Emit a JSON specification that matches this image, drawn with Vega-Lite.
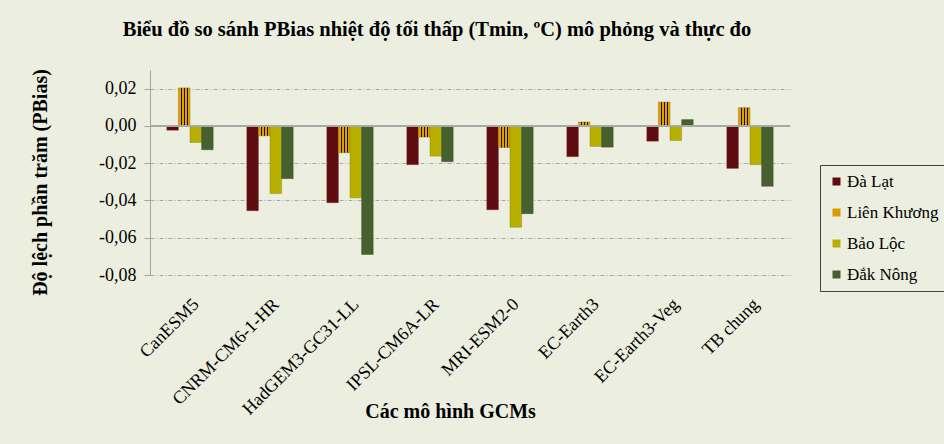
{
  "$schema": "https://vega.github.io/schema/vega-lite/v6.json",
  "width": 640,
  "height": 205,
  "autosize": "none",
  "padding": {"left": 150, "top": 70, "right": 154, "bottom": 169},
  "background": "#ECEFDF",
  "config": {
    "view": {"stroke": null},
    "font": "Liberation Serif",
    "legend": {"labelFont": "Liberation Serif", "titleFont": "Liberation Serif"},
    "axis": {"labelFont": "Liberation Serif", "titleFont": "Liberation Serif"}
  },
  "title": {
    "text": "Biểu đồ so sánh PBias nhiệt độ tối thấp (Tmin, ºC) mô phỏng và thực đo",
    "font": "Liberation Serif",
    "fontSize": 20.5,
    "fontWeight": "bold",
    "color": "#000000",
    "anchor": "middle",
    "dx": -33,
    "offset": 28
  },
  "data": {
    "values": [
      {"model": "CanESM5", "station": "Đà Lạt", "pbias": -0.0023},
      {"model": "CanESM5", "station": "Liên Khương", "pbias": 0.0204},
      {"model": "CanESM5", "station": "Bảo Lộc", "pbias": -0.0089},
      {"model": "CanESM5", "station": "Đắk Nông", "pbias": -0.0128},
      {"model": "CNRM-CM6-1-HR", "station": "Đà Lạt", "pbias": -0.0455},
      {"model": "CNRM-CM6-1-HR", "station": "Liên Khương", "pbias": -0.0053},
      {"model": "CNRM-CM6-1-HR", "station": "Bảo Lộc", "pbias": -0.0363},
      {"model": "CNRM-CM6-1-HR", "station": "Đắk Nông", "pbias": -0.0283},
      {"model": "HadGEM3-GC31-LL", "station": "Đà Lạt", "pbias": -0.0412},
      {"model": "HadGEM3-GC31-LL", "station": "Liên Khương", "pbias": -0.0144},
      {"model": "HadGEM3-GC31-LL", "station": "Bảo Lộc", "pbias": -0.0386},
      {"model": "HadGEM3-GC31-LL", "station": "Đắk Nông", "pbias": -0.069},
      {"model": "IPSL-CM6A-LR", "station": "Đà Lạt", "pbias": -0.0208},
      {"model": "IPSL-CM6A-LR", "station": "Liên Khương", "pbias": -0.006},
      {"model": "IPSL-CM6A-LR", "station": "Bảo Lộc", "pbias": -0.0162},
      {"model": "IPSL-CM6A-LR", "station": "Đắk Nông", "pbias": -0.0192},
      {"model": "MRI-ESM2-0", "station": "Đà Lạt", "pbias": -0.045},
      {"model": "MRI-ESM2-0", "station": "Liên Khương", "pbias": -0.0116},
      {"model": "MRI-ESM2-0", "station": "Bảo Lộc", "pbias": -0.0544},
      {"model": "MRI-ESM2-0", "station": "Đắk Nông", "pbias": -0.0471},
      {"model": "EC-Earth3", "station": "Đà Lạt", "pbias": -0.0165},
      {"model": "EC-Earth3", "station": "Liên Khương", "pbias": 0.0021},
      {"model": "EC-Earth3", "station": "Bảo Lộc", "pbias": -0.011},
      {"model": "EC-Earth3", "station": "Đắk Nông", "pbias": -0.0114},
      {"model": "EC-Earth3-Veg", "station": "Đà Lạt", "pbias": -0.0082},
      {"model": "EC-Earth3-Veg", "station": "Liên Khương", "pbias": 0.0128},
      {"model": "EC-Earth3-Veg", "station": "Bảo Lộc", "pbias": -0.0078},
      {"model": "EC-Earth3-Veg", "station": "Đắk Nông", "pbias": 0.0034},
      {"model": "TB chung", "station": "Đà Lạt", "pbias": -0.0228},
      {"model": "TB chung", "station": "Liên Khương", "pbias": 0.0098},
      {"model": "TB chung", "station": "Bảo Lộc", "pbias": -0.0208},
      {"model": "TB chung", "station": "Đắk Nông", "pbias": -0.0324}
    ]
  },
  "layer": [
    {
      "mark": {"type": "bar", "strokeWidth": 0.6, "strokeOpacity": 0.6},
      "encoding": {
        "x": {
          "field": "model",
          "type": "nominal",
          "sort": null,
          "scale": {"paddingInner": 0.42, "paddingOuter": 0.21},
          "axis": {
            "title": "Các mô hình GCMs",
            "titleFont": "Liberation Serif",
            "titleFontSize": 20,
            "titleFontWeight": "bold",
            "titleColor": "#000000",
            "titleBaseline": "middle",
            "titleY": 136,
            "titleX": 300,
            "labelAngle": -45,
            "labelFont": "Liberation Serif",
            "labelFontSize": 18,
            "labelColor": "#000000",
            "labelPadding": 20,
            "domain": false,
            "ticks": false,
            "grid": false
          }
        },
        "xOffset": {
          "field": "station",
          "type": "nominal",
          "sort": ["Đà Lạt", "Liên Khương", "Bảo Lộc", "Đắk Nông"],
          "scale": {"paddingInner": 0, "paddingOuter": 0}
        },
        "y": {
          "field": "pbias",
          "type": "quantitative",
          "scale": {"domain": [-0.08, 0.03], "nice": false, "zero": false},
          "axis": {
            "title": "Độ lệch phần trăm (PBias)",
            "titleFont": "Liberation Serif",
            "titleFontSize": 20,
            "titleFontWeight": "bold",
            "titleColor": "#000000",
            "titleX": -110,
            "titleY": 112,
            "titleBaseline": "middle",
            "values": [-0.08, -0.06, -0.04, -0.02, 0, 0.02],
            "labelExpr": "replace(replace(format(datum.value, '.2f'), '.', ','), '\u2212', '-')",
            "labelFont": "Liberation Serif",
            "labelFontSize": 18,
            "labelColor": "#000000",
            "labelPadding": 8,
            "domainColor": "#A0A0A0",
            "tickColor": "#A0A0A0",
            "tickSize": 6,
            "gridColor": "#A8A8A8",
            "gridDash": [4, 2, 1, 2],
            "gridWidth": 1
          }
        },
        "color": {
          "condition": {
            "test": "datum.station === 'Liên Khương'",
            "value": {
              "gradient": "linear",
              "x1": 0, "x2": 1, "y1": 0, "y2": 0,
              "stops": [
                {"offset": 0, "color": "#E0A000"},
                {"offset": 0.2, "color": "#E0A000"},
                {"offset": 0.2, "color": "#1A1000"},
                {"offset": 0.29, "color": "#1A1000"},
                {"offset": 0.29, "color": "#E0A000"},
                {"offset": 0.45, "color": "#E0A000"},
                {"offset": 0.45, "color": "#1A1000"},
                {"offset": 0.54, "color": "#1A1000"},
                {"offset": 0.54, "color": "#E0A000"},
                {"offset": 0.7, "color": "#E0A000"},
                {"offset": 0.7, "color": "#1A1000"},
                {"offset": 0.79, "color": "#1A1000"},
                {"offset": 0.79, "color": "#E0A000"},
                {"offset": 1, "color": "#E0A000"}
              ]
            }
          },
          "field": "station",
          "type": "nominal",
          "sort": ["Đà Lạt", "Liên Khương", "Bảo Lộc", "Đắk Nông"],
          "scale": {
            "domain": ["Đà Lạt", "Liên Khương", "Bảo Lộc", "Đắk Nông"],
            "range": ["#5E0C10", "#D99A00", "#B8B000", "#46602E"]
          },
          "legend": {
            "title": null,
            "orient": "none",
            "legendX": 670,
            "legendY": 95,
            "direction": "vertical",
            "strokeColor": "#404040",
            "fillColor": "#ECEFDF",
            "padding": 8,
            "symbolType": "square",
            "symbolSize": 64,
            "symbolStrokeWidth": 0,
            "labelFont": "Liberation Serif",
            "labelFontSize": 17,
            "labelColor": "#000000",
            "labelOffset": 2,
            "rowPadding": 13
          }
        },
        "stroke": {
          "field": "station",
          "type": "nominal",
          "scale": {
            "domain": ["Đà Lạt", "Liên Khương", "Bảo Lộc", "Đắk Nông"],
            "range": ["#8A2020", "#806000", "#707000", "#304020"]
          },
          "legend": null
        }
      }
    },
    {
      "mark": {"type": "rule", "color": "#A8A8A8", "strokeWidth": 1.5},
      "encoding": {"y": {"datum": 0}}
    }
  ]
}
